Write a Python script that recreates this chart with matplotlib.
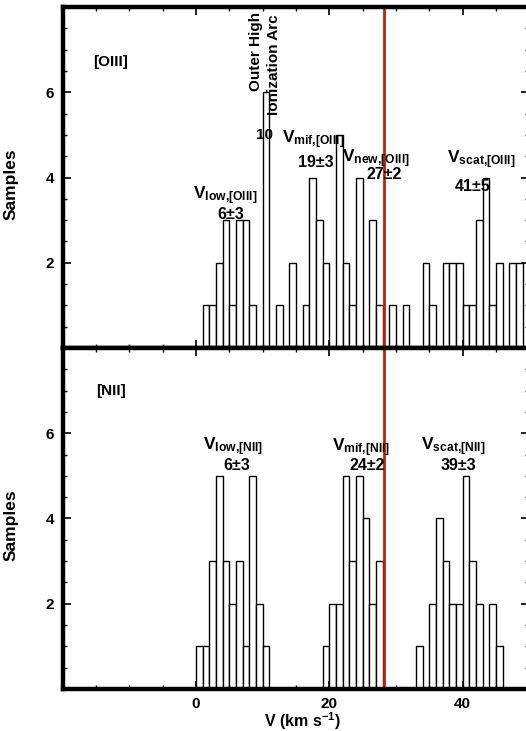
import matplotlib
matplotlib.use("Agg")
import matplotlib.pyplot as plt
import numpy as np

plt.rcParams['font.family'] = ['Liberation Sans', 'DejaVu Sans']
plt.rcParams['font.weight'] = 'bold'
plt.rcParams['mathtext.fontset'] = 'custom'
plt.rcParams['mathtext.rm'] = 'Liberation Sans:bold'
plt.rcParams['mathtext.it'] = 'Liberation Sans:bold'
plt.rcParams['mathtext.bf'] = 'Liberation Sans:bold'
plt.rcParams['mathtext.default'] = 'regular'

# histogram counts, 1 km/s bins
oiii_start = 1
oiii_counts = [1, 1, 2, 3, 1, 3, 3, 1, 0, 6, 0, 1, 0, 2, 0, 1, 4, 3, 2, 0,
               5, 2, 1, 4, 0, 3, 1, 0, 1, 0, 1, 0, 0, 2, 1, 0, 2, 2, 2, 1,
               1, 3, 4, 1, 2, 0, 2, 2]
nii_start = 0
nii_counts = [1, 1, 3, 5, 3, 2, 3, 1, 5, 2, 1, 0, 0, 0, 0, 0, 0, 0, 0, 1,
              2, 2, 5, 3, 5, 4, 2, 3, 0, 0, 0, 0, 0, 1, 0, 2, 4, 3, 2, 2,
              5, 3, 2, 0, 2, 1]
bin_width = 1.0
v_red = 28.2

oiii_labels = [r'$V_{low{,}[OIII]}$', r'$V_{mif{,}[OIII]}$', r'$V_{new{,}[OIII]}$', r'$V_{scat{,}[OIII]}$']
oiii_values = ['6±3', '19±3', '27±2', '41±5']
nii_labels = [r'$V_{low{,}[NII]}$', r'$V_{mif{,}[NII]}$', r'$V_{scat{,}[NII]}$']
nii_values = ['6±3', '24±2', '39±3']

fig = plt.figure(figsize=(5.26, 7.31), dpi=100)
ax1 = fig.add_axes([0.1192, 0.5239, 0.8872, 0.4665])
ax2 = fig.add_axes([0.1192, 0.05746, 0.8872, 0.4665])

for ax, start, counts in [(ax1, oiii_start, oiii_counts), (ax2, nii_start, nii_counts)]:
    edges = start + bin_width * np.arange(len(counts))
    ax.bar(edges, counts, width=bin_width, align='edge', facecolor='white',
           edgecolor='black', linewidth=1.0)
    ax.axvline(v_red, color='#c0200c', linewidth=2)
    ax.set_xlim(-20, 50)
    ax.set_ylim(0, 8)
    ax.set_xticks([0, 20, 40])
    ax.set_xticks(np.arange(-20, 51, 5), minor=True)
    ax.set_yticks([2, 4, 6])
    ax.set_yticks(np.arange(0, 8.01, 0.5), minor=True)
    ax.tick_params(which='both', direction='in', top=True, right=True, labelsize=11)
    ax.tick_params(which='major', length=6, width=1.2, pad=6)
    ax.tick_params(which='minor', length=3, width=1.0)
    for s in ax.spines.values():
        s.set_linewidth(3.2)
    ax.set_ylabel('Samples', fontsize=12.5, fontweight='bold')
    ax.yaxis.set_label_coords(-0.095, 0.48)

ax1.tick_params(labelbottom=False)
ax2.set_xlabel(r'V (km s$^{-1}$)', fontsize=11.5, fontweight='bold')
ax2.xaxis.set_label_coords(0.514, -0.062)

# top panel text
ax1.text(-15.5, 6.72, '[OIII]', fontsize=11, va='center', ha='left')
ax1.text(9.0, 6.95, 'Outer High', fontsize=11, rotation=90, ha='center', va='center')
ax1.text(11.7, 6.64, 'Ionization Arc', fontsize=11, rotation=90, ha='center', va='center')
ax1.text(10.2, 5.0, '10', fontsize=11, ha='center', va='center')
oiii_pos = [(4.35, 3.58, 5.25, 3.14), (17.55, 4.88, 18.0, 4.36),
            (27.0, 4.43, 28.2, 4.07), (42.75, 4.42, 41.55, 3.79)]
for lab, val, (x1, y1, x2, y2) in zip(oiii_labels, oiii_values, oiii_pos):
    ax1.text(x1, y1, lab, fontsize=12.5, ha='center', va='center')
    ax1.text(x2, y2, val, fontsize=11.5, ha='center', va='center')

# bottom panel text
ax2.text(-15.0, 6.99, '[NII]', fontsize=11, va='center', ha='left')
nii_pos = [(5.55, 5.69, 6.15, 5.25), (24.75, 5.67, 25.65, 5.25),
           (38.55, 5.69, 39.3, 5.25)]
for lab, val, (x1, y1, x2, y2) in zip(nii_labels, nii_values, nii_pos):
    ax2.text(x1, y1, lab, fontsize=12.5, ha='center', va='center')
    ax2.text(x2, y2, val, fontsize=11.5, ha='center', va='center')

fig.savefig('out.png', dpi=100)
